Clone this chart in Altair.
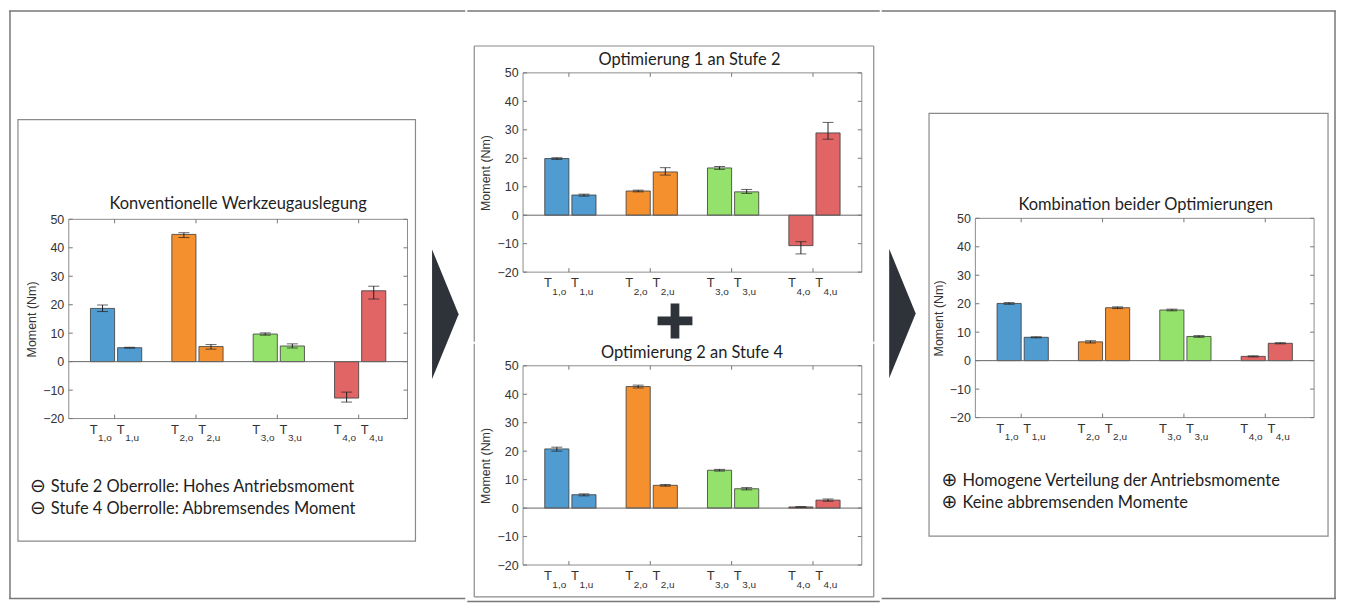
import altair as alt
import pandas as pd

# ---------------- data ----------------
slots = ["1,o", "1,u", "g1", "2,o", "2,u", "g2", "3,o", "3,u", "g3", "4,o", "4,u"]
subs = ["1,o", "1,u", "2,o", "2,u", "3,o", "3,u", "4,o", "4,u"]
group_first = ["1,o", "2,o", "3,o", "4,o"]
stages = ["Stufe 1", "Stufe 1", "Stufe 2", "Stufe 2", "Stufe 3", "Stufe 3", "Stufe 4", "Stufe 4"]
stage_names = ["Stufe 1", "Stufe 2", "Stufe 3", "Stufe 4"]
stage_colors = ["#509bd0", "#f5902f", "#94e26b", "#e26565"]
y_ticks = [-20, -10, 0, 10, 20, 30, 40, 50]

konv_val = [18.7, 4.9, 44.7, 5.3, 9.7, 5.5, -12.8, 24.9]
konv_lo = [17.6, 4.75, 43.6, 4.4, 9.3, 4.8, -14.2, 22.0]
konv_hi = [19.9, 5.05, 45.3, 6.0, 10.1, 6.25, -10.7, 26.5]

opt1_val = [19.9, 7.1, 8.5, 15.2, 16.6, 8.2, -10.7, 28.9]
opt1_lo = [19.6, 6.7, 8.2, 14.1, 16.1, 7.65, -13.6, 26.7]
opt1_hi = [20.2, 7.4, 8.8, 16.7, 17.1, 9.05, -9.3, 32.6]

opt2_val = [20.8, 4.7, 42.7, 8.0, 13.3, 6.8, 0.4, 2.8]
opt2_lo = [20.0, 4.3, 42.2, 7.7, 13.0, 6.4, 0.3, 2.4]
opt2_hi = [21.4, 5.0, 43.2, 8.3, 13.6, 7.2, 0.5, 3.2]

komb_val = [20.1, 8.2, 6.6, 18.6, 17.8, 8.5, 1.5, 6.1]
komb_lo = [19.8, 8.0, 6.2, 18.3, 17.5, 8.2, 1.3, 5.9]
komb_hi = [20.4, 8.4, 7.0, 18.9, 18.1, 8.8, 1.7, 6.3]

titles = ["Konventionelle Werkzeugauslegung", "Optimierung 1 an Stufe 2",
          "Optimierung 2 an Stufe 4", "Kombination beider Optimierungen"]
left_notes = ["Stufe 2 Oberrolle: Hohes Antriebsmoment",
              "Stufe 4 Oberrolle: Abbremsendes Moment"]
right_notes = ["Homogene Verteilung der Antriebsmomente",
               "Keine abbremsenden Momente"]
minus_sym = "\u2296"
plus_sym = "\u2295"

# ---------------- styles ----------------
W, H = 340, 200
TXT_FONT = "Lato"
NUM_FONT = "Liberation Sans"
FRAME = "#777777"
BOX = "#8a8a8a"
PLOTFRAME = "#8c8c8c"
DARK = "#2d3339"
ARROW_PATH = "M-0.205,-1L0.205,0L-0.205,1Z"
PLUS_PATH = "M-1,-0.25H-0.25V-1H0.25V-0.25H1V0.25H0.25V1H-0.25V0.25H-1Z"

dummy = pd.DataFrame({"d": [0]})


def line(x1, y1, x2, y2, color=BOX, width=1.2):
    """thin filled strip (exact bounds, no stroke overhang)"""
    if x1 == x2:
        xa, xb, ya, yb = x1 - width / 2, x1 + width / 2, y1, y2
    else:
        xa, xb, ya, yb = x1, x2, y1 - width / 2, y1 + width / 2
    return alt.Chart(dummy).mark_rect(color=color, strokeWidth=0).encode(
        x=alt.value(xa), x2=alt.value(xb), y=alt.value(ya), y2=alt.value(yb))


def frame_rect(x1, y1, x2, y2, color=BOX, width=1.2):
    return alt.Chart(dummy).mark_rect(fillOpacity=0, stroke=color, strokeWidth=width).encode(
        x=alt.value(x1), x2=alt.value(x2), y=alt.value(y1), y2=alt.value(y2))


def bounds(x1, y1, x2, y2):
    return alt.Chart(dummy).mark_rect(opacity=0, strokeWidth=0).encode(
        x=alt.value(x1), x2=alt.value(x2), y=alt.value(y1), y2=alt.value(y2))


def label(text, x, y, size=16.5, align="center", font=TXT_FONT):
    return alt.Chart(dummy).mark_text(
        text=text, font=font, fontSize=size, align=align, baseline="alphabetic",
        color="#1e1e1e").encode(x=alt.value(x), y=alt.value(y))


def shape(path, x, y, size):
    return alt.Chart(dummy).mark_point(
        shape=path, size=size, filled=True, color=DARK, opacity=1, strokeWidth=0
    ).encode(x=alt.value(x), y=alt.value(y))


def notes(lines, sym, x, y0, y1):
    return [
        label(sym, x, y0, size=19, align="left", font="DejaVu Sans"),
        label(lines[0], x + 21, y0, align="left"),
        label(sym, x, y1, size=19, align="left", font="DejaVu Sans"),
        label(lines[1], x + 21, y1, align="left"),
    ]


def panel(vals, lo, hi, title, tx, ty, decor, py=0):
    df = pd.DataFrame({"slot": subs, "sub": subs, "stage": stages,
                       "value": vals, "lo": lo, "hi": hi})
    xscale = alt.Scale(domain=slots, paddingInner=0.11, paddingOuter=0.8)
    xenc = alt.X("slot:N", scale=xscale, axis=None)
    yscale = alt.Scale(domain=[-20, 50], nice=False, range=[py + H, py])
    yaxis = alt.Axis(values=y_ticks, tickCount=20, title="Moment (Nm)", grid=False,
                     ticks=False, domain=False, labelOverlap=False, labelFont=NUM_FONT,
                     labelFontSize=12.5, labelColor="#333333", labelPadding=5,
                     titleFont=NUM_FONT, titleFontSize=12.5, titleFontWeight="normal",
                     titleColor="#333333", titlePadding=4)
    base = alt.Chart(df)
    bars = base.mark_bar(stroke="#3a3a3a", strokeWidth=1, strokeOpacity=0.8).encode(
        x=xenc,
        y=alt.Y("value:Q", scale=yscale, axis=yaxis),
        y2=alt.datum(0),
        color=alt.Color("stage:N", scale=alt.Scale(domain=stage_names, range=stage_colors),
                        legend=None),
    )
    zero = alt.Chart(dummy).mark_rule(color="#666666", strokeWidth=1).encode(
        y=alt.datum(0), x=alt.value(0), x2=alt.value(W))
    err = base.mark_rule(color="#222222", strokeWidth=1).encode(x=xenc, y="lo:Q", y2="hi:Q")
    cap_lo = base.mark_tick(color="#222222", size=11, thickness=1, orient="horizontal").encode(
        x=xenc, y="lo:Q")
    cap_hi = base.mark_tick(color="#222222", size=11, thickness=1, orient="horizontal").encode(
        x=xenc, y="hi:Q")
    tdf = pd.DataFrame({"v": y_ticks})
    tick_l = alt.Chart(tdf).mark_rule(color="#777777", strokeWidth=1).encode(
        y="v:Q", x=alt.value(0), x2=alt.value(4))
    tick_r = alt.Chart(tdf).mark_rule(color="#777777", strokeWidth=1).encode(
        y="v:Q", x=alt.value(W - 4), x2=alt.value(W))
    gdf = pd.DataFrame({"slot": group_first})
    gx = alt.X("slot:N", scale=xscale, axis=None, bandPosition=1)
    tick_t = alt.Chart(gdf).mark_rule(color="#777777", strokeWidth=1).encode(
        x=gx, y=alt.value(py), y2=alt.value(py + 4))
    tick_b = alt.Chart(gdf).mark_rule(color="#777777", strokeWidth=1).encode(
        x=gx, y=alt.value(py + H - 4), y2=alt.value(py + H))
    pframe = frame_rect(0, py, W, py + H, PLOTFRAME, 1)
    lab_t = base.mark_text(text="T", font=NUM_FONT, fontSize=13, align="right", dx=-5,
                           baseline="alphabetic", color="#333333").encode(
        x=xenc, y=alt.value(py + H + 15))
    lab_s = base.mark_text(font=NUM_FONT, fontSize=10, align="left", dx=-4.5,
                           baseline="alphabetic", color="#333333").encode(
        x=xenc, y=alt.value(py + H + 23), text="sub:N")
    ttl = label(title, tx, ty)
    layers = decor + [pframe, bars, zero, err, cap_lo, cap_hi, tick_l, tick_r,
                      tick_t, tick_b, lab_t, lab_s, ttl]
    return alt.layer(*layers).properties(width=W, height=py + H)


# left cell: view origin at screen (68, 71); plot area at y 218..418
PYL = 147
left_decor = [
    bounds(-60, -63, 398, 529),
    line(-60, -62, 398, -62, FRAME, 1.5),
    line(-60, 527.5, 398, 527.5, FRAME, 1.5),
    line(-59, -62, -59, 527.5, FRAME, 1.5),
    frame_rect(-51, 47, 348, 470),
    shape(ARROW_PATH, 378, 242.3, 16900),
] + notes(left_notes, minus_sym, -39, 420.7, 443)
left = panel(konv_val, konv_lo, konv_hi, titles[0], 170, 137, left_decor, PYL)

# center top: view origin at (522, 71)
ctop_decor = [
    bounds(-56, -63, 358, 270),
    line(-56, -62, 358, -62, FRAME, 1.5),
    line(-49, -27, 352, -27),
    line(-49, -27, -49, 270),
    line(352, -27, 352, 270),
    shape(PLUS_PATH, 152.5, 249, 1225),
]
ctop = panel(opt1_val, opt1_lo, opt1_hi, titles[1], 167, -8, ctop_decor)

# center bottom: view origin at (522, 363)
cbot_decor = [
    bounds(-56, -22, 358, 237),
    line(-56, 236.5, 358, 236.5, FRAME, 1.5),
    line(-49, 232, 352, 232),
    line(-49, -22, -49, 232),
    line(352, -22, 352, 232),
]
cbot = panel(opt2_val, opt2_lo, opt2_hi, titles[2], 169.5, -8, cbot_decor)

# right cell: view origin at (974, 71); plot area at y 217..417
PYR = 146
right_decor = [
    bounds(-94, -63, 362, 529),
    line(-94, -62, 362, -62, FRAME, 1.5),
    line(-94, 527.5, 362, 527.5, FRAME, 1.5),
    line(361, -62, 361, 527.5, FRAME, 1.5),
    frame_rect(-46.5, 40.7, 354, 465),
    shape(ARROW_PATH, -73.2, 241.5, 16900),
] + notes(right_notes, plus_sym, -34, 414.7, 436.3)
right = panel(komb_val, komb_lo, komb_hi, titles[3], 171, 137.3, right_decor, PYR)

center = alt.vconcat(ctop, cbot, spacing=0)
chart = alt.hconcat(left, center, right, spacing=0).properties(
    padding=0
).configure_view(stroke="transparent")

chart.save("out.html", embed_options={"renderer": "svg", "actions": False})
